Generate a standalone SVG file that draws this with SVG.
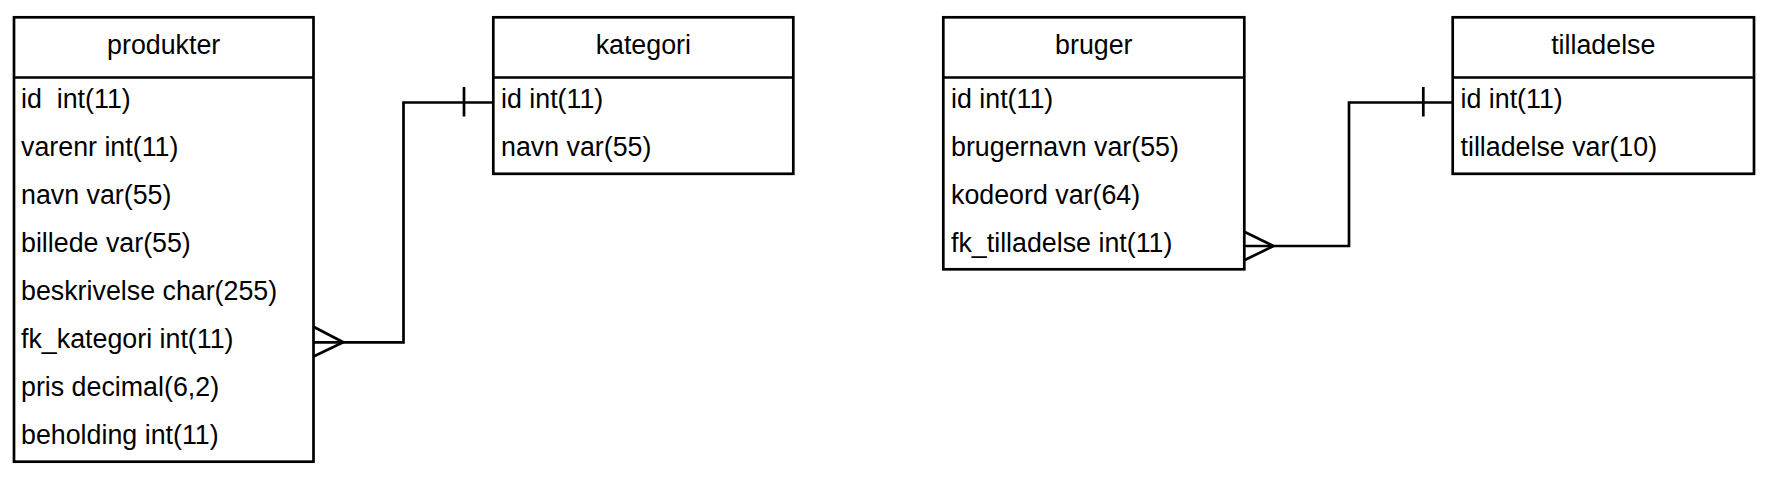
<svg xmlns="http://www.w3.org/2000/svg" width="1772" height="482" viewBox="0 0 1772 482">
<style>
.box{fill:#ffffff;stroke:#000000;stroke-width:2.7}
.sep{stroke:#000000;stroke-width:2.7}
.t{font-family:"Liberation Sans",Arial,sans-serif;font-size:26.8px;fill:#000000;white-space:pre}
.h{text-anchor:middle}
.c{fill:none;stroke:#000000;stroke-width:2.7;stroke-linejoin:miter}
</style>
<rect width="1772" height="482" fill="#ffffff"/>
<g id="connectors">
<path class="c" d="M313.5,342.3 H403.5 V102.5 H493.3"/>
<path class="c" d="M313.5,326.7 L343.3,342.3 L313.5,356.5"/>
<path class="c" d="M464,87 V116.5"/>
<path class="c" d="M1244.3,246 H1349 V102.5 H1452.7"/>
<path class="c" d="M1244.3,231.7 L1273.3,246 L1244.3,260.3"/>
<path class="c" d="M1423.3,87 V116.5"/>
</g>
<g id="produkter">
<rect class="box" x="14" y="17.3" width="299.5" height="444.4"/>
<line class="sep" x1="14" y1="77.5" x2="313.5" y2="77.5"/>
<text class="t h" x="163.7" y="53.5">produkter</text>
<text class="t" x="21" y="108" xml:space="preserve">id  int(11)</text>
<text class="t" x="21" y="156">varenr int(11)</text>
<text class="t" x="21" y="204">navn var(55)</text>
<text class="t" x="21" y="252">billede var(55)</text>
<text class="t" x="21" y="300">beskrivelse char(255)</text>
<text class="t" x="21" y="348">fk_kategori int(11)</text>
<text class="t" x="21" y="396">pris decimal(6,2)</text>
<text class="t" x="21" y="444">beholding int(11)</text>
</g>
<g id="kategori">
<rect class="box" x="493.3" y="17.3" width="300" height="156.5"/>
<line class="sep" x1="493.3" y1="77.5" x2="793.3" y2="77.5"/>
<text class="t h" x="643.3" y="53.5">kategori</text>
<text class="t" x="501" y="108">id int(11)</text>
<text class="t" x="501" y="156">navn var(55)</text>
</g>
<g id="bruger">
<rect class="box" x="943.3" y="17.3" width="301" height="252"/>
<line class="sep" x1="943.3" y1="77.5" x2="1244.3" y2="77.5"/>
<text class="t h" x="1093.8" y="53.5">bruger</text>
<text class="t" x="951" y="108">id int(11)</text>
<text class="t" x="951" y="156">brugernavn var(55)</text>
<text class="t" x="951" y="204">kodeord var(64)</text>
<text class="t" x="951" y="252">fk_tilladelse int(11)</text>
</g>
<g id="tilladelse">
<rect class="box" x="1452.7" y="17.3" width="301.3" height="156.5"/>
<line class="sep" x1="1452.7" y1="77.5" x2="1754" y2="77.5"/>
<text class="t h" x="1603.3" y="53.5">tilladelse</text>
<text class="t" x="1460.5" y="108">id int(11)</text>
<text class="t" x="1460.5" y="156">tilladelse var(10)</text>
</g>
</svg>
